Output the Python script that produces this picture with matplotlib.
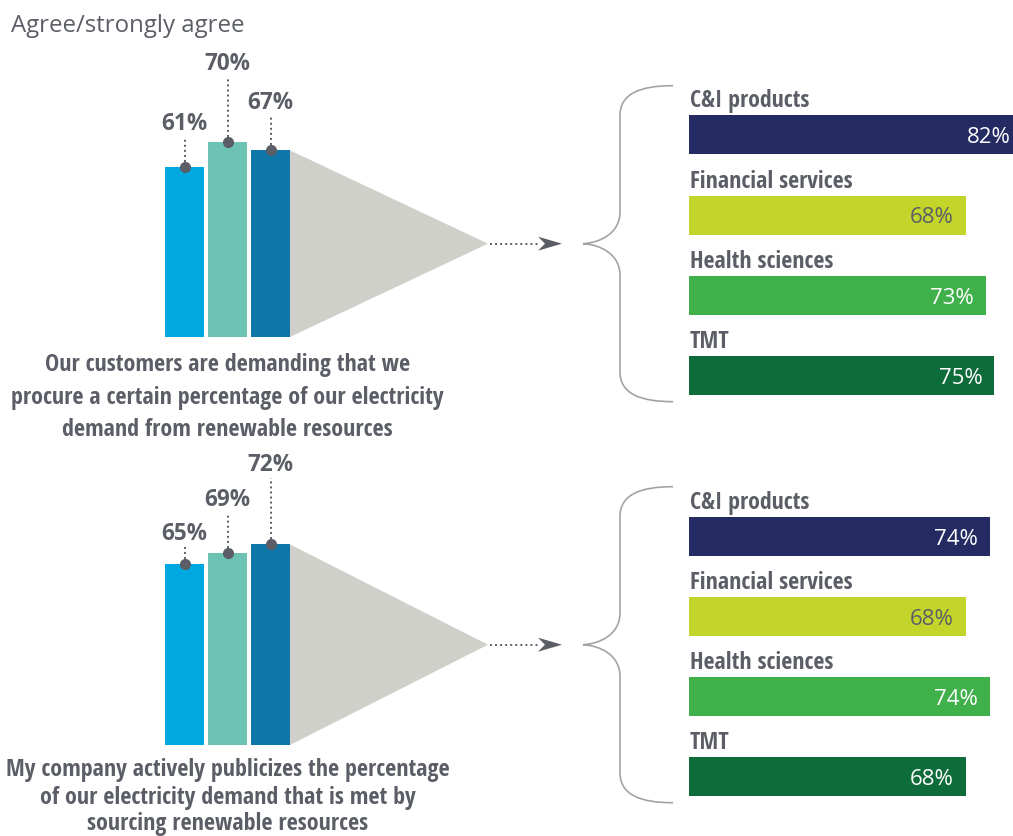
import os
import matplotlib
matplotlib.use("Agg")
import matplotlib.pyplot as plt
from matplotlib import font_manager as fm
from matplotlib.font_manager import FontProperties
from matplotlib.path import Path
from matplotlib.patches import PathPatch, Polygon

# ---------------------------------------------------------------- data
title_text = "Agree/strongly agree"

demand_overall = [61, 70, 67]
publicize_overall = [65, 69, 72]

sectors = ["C&I products", "Financial services", "Health sciences", "TMT"]
demand_sector = [82, 68, 73, 75]
publicize_sector = [74, 68, 74, 68]

demand_caption = [
    "Our customers are demanding that we",
    "procure a certain percentage of our electricity",
    "demand from renewable resources",
]
publicize_caption = [
    "My company actively publicizes the percentage",
    "of our electricity demand that is met by",
    "sourcing renewable resources",
]

# ---------------------------------------------------------------- style
overall_colors = ["#00A8E1", "#6CC3B4", "#0F76A9"]
sector_colors = ["#232B62", "#C3D52B", "#3FB04A", "#0E6B3A"]
sector_text_colors = ["white", "#5B5E66", "white", "white"]
GRAY = "#5B5E66"
FUNNEL = "#D0D0CB"
BRACE = "#A3A3A3"

W, H = 1013, 836


def condensed_bold():
    files = {}
    for f in fm.fontManager.ttflist:
        files[os.path.basename(f.fname).lower().rsplit(".", 1)[0]] = f.fname
    prefs = ["opensans-condbold", "opensanscondensed-bold",
             "liberationsansnarrow-bold", "robotocondensed-bold",
             "notosans-condensedbold", "dejavusanscondensed-bold"]
    for p in prefs:
        if p in files:
            return FontProperties(fname=files[p])
    for name, path in sorted(files.items()):
        if ("condensed" in name or "narrow" in name) and "bold" in name \
                and "italic" not in name and "oblique" not in name \
                and "semi" not in name and "extra" not in name:
            return FontProperties(fname=path)
    return FontProperties(family="Open Sans", weight="bold")


fp_cond = condensed_bold()
fp_reg = FontProperties(family=["Open Sans", "DejaVu Sans"])
fp_bold = FontProperties(family=["Open Sans", "DejaVu Sans"], weight="bold")

fig = plt.figure(figsize=(W / 100, H / 100), dpi=100)
renderer = fig.canvas.get_renderer()


def fitted_size(text, fp, width_px):
    t = fig.text(0, 0, text, fontproperties=fp, fontsize=20)
    w = t.get_window_extent(renderer=renderer).width
    t.remove()
    return 20 * width_px / w


size_caption = fitted_size(demand_caption[1], fp_cond, 430)
size_sector = fitted_size("Financial services", fp_cond, 162)
size_top = fitted_size("70%", fp_bold, 46)
size_inner = fitted_size("68%", fp_reg, 44)
size_title = fitted_size(title_text, fp_reg, 232)

# full-figure overlay in pixel coordinates for the braces and texts
ov = fig.add_axes([0, 0, 1, 1])
ov.set_xlim(0, W)
ov.set_ylim(H, 0)
ov.axis("off")


def px_axes(x0, y0, x1, y1):
    ax = fig.add_axes([x0 / W, 1 - y1 / H, (x1 - x0) / W, (y1 - y0) / H])
    ax.axis("off")
    ax.patch.set_alpha(0)
    return ax


ov.text(11, 32, title_text, fontproperties=fp_reg, fontsize=size_title,
        color=GRAY, ha="left", va="baseline")

PX_PCT = 2.786     # pixels per percentage point, left columns
BAR_STEP = 43      # pixels between column centres
X0 = 184.5         # first column centre


def draw_overall(values, base_px, label_y, caption, caption_base):
    ax = px_axes(X0 - BAR_STEP, base_px - 100 * PX_PCT,
                 X0 + 3 * BAR_STEP, base_px)
    ax.set_xlim(-1, 3)
    ax.set_ylim(0, 100)
    w = 39 / BAR_STEP
    xs = list(range(len(values)))
    ax.bar(xs, values, width=w, color=overall_colors, zorder=3)

    # funnel from the last column towards the brace
    v_last = values[-1]
    x_edge = xs[-1] + w / 2
    apex = (488 - X0) / BAR_STEP
    ax.add_patch(Polygon([(x_edge, v_last), (x_edge, 0), (apex, v_last / 2)],
                         closed=True, facecolor=FUNNEL, edgecolor="none",
                         zorder=2, clip_on=False))
    mid = v_last / 2
    line_end = (540 - X0) / BAR_STEP
    ax.plot([apex + 0.05, line_end], [mid, mid], color=GRAY, lw=1.4,
            ls=(0, (1, 1.6)), clip_on=False, zorder=3)
    tip = (562 - X0) / BAR_STEP
    back = (538 - X0) / BAR_STEP
    notch = (545 - X0) / BAR_STEP
    hh = 7 / PX_PCT
    ax.add_patch(Polygon([(tip, mid), (back, mid + hh), (notch, mid),
                          (back, mid - hh)], closed=True, facecolor=GRAY,
                         edgecolor="none", clip_on=False, zorder=4))

    # value markers with leader lines
    for x, v, ly in zip(xs, values, label_y):
        ax.plot([x, x], [v, ly - 4.6], color=GRAY, lw=1.4,
                ls=(0, (1, 1.6)), clip_on=False, zorder=4)
        ax.plot(x, v, "o", ms=8, color=GRAY, mec="none",
                clip_on=False, zorder=5)
        ax.text(x, ly, f"{v}%", fontproperties=fp_bold, fontsize=size_top,
                color=GRAY, ha="center", va="center")

    for line, yb in zip(caption, caption_base):
        ov.text(227.5, yb, line, fontproperties=fp_cond,
                fontsize=size_caption, color=GRAY, ha="center",
                va="baseline")
    return base_px - mid * PX_PCT


def draw_brace(tip_y, half=158, x_tip=583, x_mid=620, x_end=673):
    top, bot = tip_y - half, tip_y + half
    verts = [
        (x_end, top),
        (640, top), (x_mid, top + 8), (x_mid, top + 30),
        (x_mid, tip_y - 32),
        (x_mid, tip_y - 10), (600, tip_y - 1), (x_tip, tip_y),
        (600, tip_y + 1), (x_mid, tip_y + 10), (x_mid, tip_y + 32),
        (x_mid, bot - 30),
        (x_mid, bot - 8), (640, bot), (x_end, bot),
    ]
    codes = [Path.MOVETO,
             Path.CURVE4, Path.CURVE4, Path.CURVE4,
             Path.LINETO,
             Path.CURVE4, Path.CURVE4, Path.CURVE4,
             Path.CURVE4, Path.CURVE4, Path.CURVE4,
             Path.LINETO,
             Path.CURVE4, Path.CURVE4, Path.CURVE4]
    ov.add_patch(PathPatch(Path(verts, codes), facecolor="none",
                           edgecolor=BRACE, lw=1.2))


PX_SECTOR = 4.07   # pixels per percentage point, sector bars
SX0 = 689


def draw_sectors(values, first_center, step):
    ax = px_axes(SX0, first_center - step, W, first_center + 3.5 * step)
    ax.set_xlim(0, (W - SX0) / PX_SECTOR)
    ax.set_ylim(3.5, -1)
    rows = list(range(len(values)))
    ax.barh(rows, values, height=39 / step, color=sector_colors)
    for r, name, v, tc in zip(rows, sectors, values, sector_text_colors):
        ax.text(1 / PX_SECTOR, r - 27.5 / step, name, fontproperties=fp_cond,
                fontsize=size_sector, color=GRAY, ha="left", va="baseline",
                clip_on=False)
        ax.text(v - 12 / PX_SECTOR, r + 8.3 / step, f"{v}%",
                fontproperties=fp_reg, fontsize=size_inner, color=tc,
                ha="right", va="baseline")


tip1 = draw_overall(demand_overall, 337, [76.4, 98.0, 84.0],
                    demand_caption, [371, 403.5, 436.5])
draw_brace(tip1)
draw_sectors(demand_sector, 134.5, 80.5)

tip2 = draw_overall(publicize_overall, 745, [75.7, 87.8, 100.5],
                    publicize_caption, [776, 803.5, 830])
draw_brace(tip2)
draw_sectors(publicize_sector, 536.5, 80.0)

fig.savefig("out.png", dpi=100, facecolor="white")
